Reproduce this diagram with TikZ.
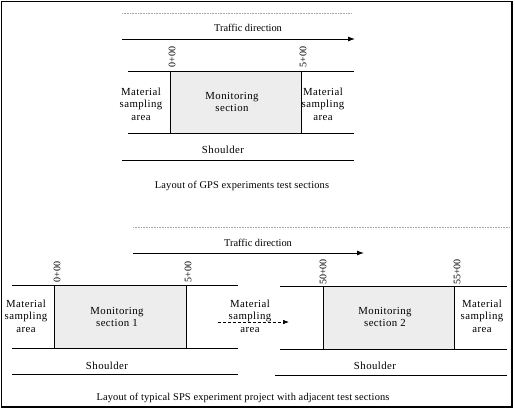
\documentclass[tikz,border=0pt]{standalone}
\usepackage{fontspec}
\setmainfont{Liberation Serif}
\usetikzlibrary{arrows.meta}
\begin{document}
\begin{tikzpicture}[x=1pt,y=-1pt,
  lbl/.style={font=\fontsize{10.8}{12.5}\selectfont\addfontfeature{LetterSpace=4}, align=center, inner sep=0pt},
  trf/.style={font=\fontsize{10.4}{12}\selectfont, inner sep=0pt},
  captxt/.style={font=\fontsize{10.4}{12}\selectfont\addfontfeature{LetterSpace=1.5}, inner sep=0pt},
  sta/.style={font=\fontsize{10}{12}\selectfont, rotate=90, inner sep=0pt},
  road/.style={line width=0.9pt},
  monbox/.style={draw, line width=0.9pt, fill=black!7},
  guide/.style={gray!70, line width=0.6pt, densely dotted},
  trafarrow/.style={line width=0.9pt, -{Latex[length=7pt,width=5pt]}},
  dasharrow/.style={line width=0.6pt, densely dashed, -{Latex[length=6pt,width=4.5pt]}}]
\useasboundingbox (0,0) rectangle (515,410);
\draw[line width=1.6pt] (1.5,1.5) rectangle (512,407);
% ---------- top layout ----------
\coordinate (g1) at (122,13); \coordinate (g2) at (352,13);
\draw[guide] (g1) -- (g2);
\coordinate (ta1) at (122,39); \coordinate (ta2) at (355,39);
\draw[trafarrow] (ta1) -- (ta2);
\node[trf] (ttd) at (248,28) {Traffic direction};
\coordinate (tr1) at (128,71); \coordinate (tr2) at (354,71);
\coordinate (tr3) at (128,133); \coordinate (tr4) at (354,133);
\draw[road] (tr1) -- (tr2);
\draw[road] (tr3) -- (tr4);
\coordinate (tm1) at (170,71); \coordinate (tm2) at (301,133);
\draw[monbox] (tm1) rectangle (tm2);
\node[sta] (ts0) at (172,57) {0+00};
\node[sta] (ts5) at (303,57) {5+00};
\node[lbl] (tml) at (141,104) {Material\\sampling\\area};
\node[lbl] (tmr) at (323,104) {Material\\sampling\\area};
\node[lbl] (tms) at (232,102) {Monitoring\\section};
\node[lbl] (tsh) at (223,150) {Shoulder};
\coordinate (ts1) at (122,160); \coordinate (ts2) at (354,160);
\draw[road] (ts1) -- (ts2);
\node[captxt] (tcap) at (242,186) {Layout of GPS experiments test sections};
% ---------- bottom layout ----------
\coordinate (h1) at (133,227); \coordinate (h2) at (510,227);
\draw[guide] (h1) -- (h2);
\coordinate (ba1) at (133,253); \coordinate (ba2) at (364,253);
\draw[trafarrow] (ba1) -- (ba2);
\node[trf] (btd) at (258,243) {Traffic direction};
% left road
\coordinate (lr1) at (12,285); \coordinate (lr2) at (238,285);
\coordinate (lr3) at (12,348); \coordinate (lr4) at (238,348);
\draw[road] (lr1) -- (lr2);
\draw[road] (lr3) -- (lr4);
\coordinate (lm1) at (54,285); \coordinate (lm2) at (186,348);
\draw[monbox] (lm1) rectangle (lm2);
\node[sta] (ls0) at (57,272) {0+00};
\node[sta] (ls5) at (188,272) {5+00};
\node[lbl] (lml) at (26,316) {Material\\sampling\\area};
\node[lbl] (lms) at (117,317) {Monitoring\\section 1};
\node[lbl] (lsh) at (107,366) {Shoulder};
\coordinate (ls1) at (12,374); \coordinate (ls2) at (238,374);
\draw[road] (ls1) -- (ls2);
% middle
\coordinate (da1) at (218,322); \coordinate (da2) at (289,322);
\draw[dasharrow] (da1) -- (da2);
\node[lbl] (mml) at (250,316) {Material\\sampling\\area};
% right road
\coordinate (rr1) at (280,286); \coordinate (rr2) at (507,286);
\coordinate (rr3) at (280,349); \coordinate (rr4) at (507,349);
\draw[road] (rr1) -- (rr2);
\draw[road] (rr3) -- (rr4);
\coordinate (rm1) at (323,286); \coordinate (rm2) at (454,349);
\draw[monbox] (rm1) rectangle (rm2);
\node[sta] (rs50) at (323,272) {50+00};
\node[sta] (rs55) at (457,272) {55+00};
\node[lbl] (rms) at (385,317) {Monitoring\\section 2};
\node[lbl] (rmr) at (482,316) {Material\\sampling\\area};
\node[lbl] (rsh) at (375,366) {Shoulder};
\coordinate (rs1) at (275,375); \coordinate (rs2) at (507,375);
\draw[road] (rs1) -- (rs2);
\node[captxt] (bcap) at (243,398) {Layout of typical SPS experiment project with adjacent test sections};
\end{tikzpicture}
\end{document}
